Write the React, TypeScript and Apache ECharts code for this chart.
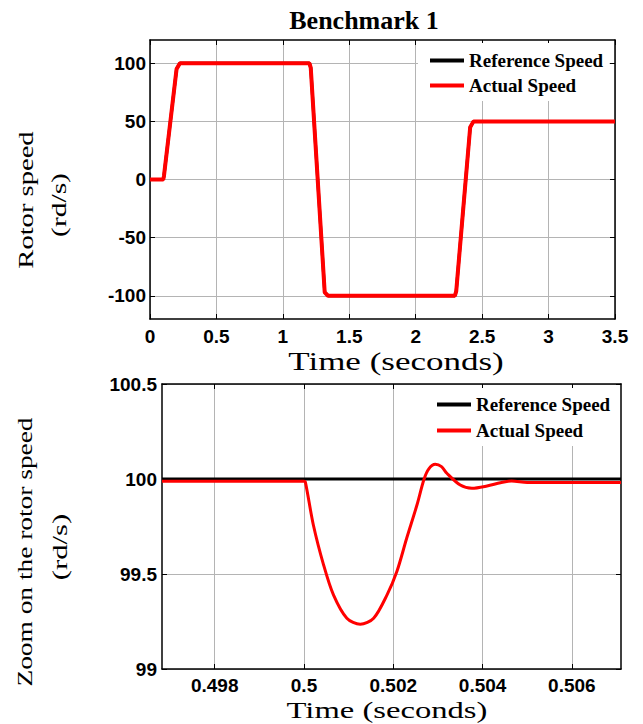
import React, { useEffect, useRef } from "react";
import * as echarts from "echarts";

// ---- Top plot (Benchmark 1) ----
const topTime = [0, 0.1, 0.105, 0.2, 0.225, 1.2, 1.21, 1.315, 1.34, 2.295, 2.305, 2.41, 2.435, 3.5];
const topReference = [0, 0, 3, 95, 100, 100, 96, -97, -100, -100, -96, 45, 50, 50];
const topActual = [0, 0, 3, 95, 100, 100, 96, -97, -100, -100, -96, 45, 50, 50];
const topYTicks = [-100, -50, 0, 50, 100];

// ---- Bottom plot (zoom) ----
const zoomRefTime = [0.49682, 0.5071];
const zoomReference = [100, 100];
const zoomTime = [
  0.49682, 0.5, 0.50003, 0.50021, 0.50044, 0.50066, 0.50096, 0.50126, 0.50156, 0.50186,
  0.50208, 0.5023, 0.50253, 0.50269, 0.5028, 0.50294, 0.50308, 0.5032, 0.5035, 0.50376,
  0.5041, 0.5044, 0.50465, 0.505, 0.5071,
];
const zoomActual = [
  99.988, 99.988, 99.985, 99.758, 99.547, 99.39, 99.267, 99.235, 99.267, 99.39,
  99.513, 99.688, 99.863, 100.0, 100.055, 100.077, 100.065, 100.03, 99.968, 99.951,
  99.963, 99.98, 99.99, 99.982, 99.981,
];
const zoomXTicks = [0.498, 0.5, 0.502, 0.504, 0.506];

const pairs = (xs: number[], ys: number[]) => xs.map((x, i) => [x, ys[i]]);

const SERIF = "Liberation Serif";
const SANS = "Liberation Sans";

const tickLabel = {
  color: "#000",
  fontFamily: SANS,
  fontWeight: "bold" as const,
  fontSize: 19,
};
const frameLine = { show: true, onZero: false, lineStyle: { color: "#000", width: 1.5 } };
const innerTick = { show: true, inside: true, length: 5, lineStyle: { color: "#000", width: 1 } };
const gridLine = { show: true, lineStyle: { color: "#b4b4b4", width: 1 } };

function label(text: string, x: number, y: number, size: number, scale: number, rotate: boolean, bold = false) {
  return {
    type: "text",
    x,
    y,
    rotation: rotate ? Math.PI / 2 : 0,
    scaleX: scale,
    z: 100,
    style: {
      text,
      fill: "#000",
      fontFamily: SERIF,
      fontSize: size,
      fontWeight: bold ? "bold" : "normal",
      textAlign: "center",
      textVerticalAlign: "middle",
      align: "center",
      verticalAlign: "middle",
    },
  };
}

export default function App() {
  const ref = useRef<HTMLDivElement>(null);
  useEffect(() => {
    document.body.style.margin = "0";
    if (!ref.current) return;
    const chart = echarts.init(ref.current, undefined, { renderer: "svg" });
    const legendText = { color: "#000", fontFamily: SERIF, fontWeight: "bold" as const, fontSize: 19, lineHeight: 19 };
    chart.setOption({
      animation: false,
      backgroundColor: "#fff",
      grid: [
        { left: 150, top: 40, width: 465, height: 279 },
        { left: 162, top: 384, width: 459, height: 285 },
      ],
      legend: [
        {
          orient: "vertical",
          left: 418,
          top: 43,
          padding: [8, 6, 6, 12],
          itemGap: 6,
          itemWidth: 34,
          itemHeight: 4,
          icon: "rect",
          backgroundColor: "#fff",
          textStyle: legendText,
          data: ["Reference Speed", "Actual Speed"],
          selectedMode: false,
        },
        {
          orient: "vertical",
          left: 425,
          top: 388,
          padding: [7, 6, 6, 12],
          itemGap: 7,
          itemWidth: 34,
          itemHeight: 4,
          icon: "rect",
          backgroundColor: "#fff",
          textStyle: legendText,
          data: ["Reference Speed", "Actual Speed"],
          selectedMode: false,
        },
      ],
      xAxis: [
        {
          gridIndex: 0, type: "value", min: 0, max: 3.5, interval: 0.5, position: "bottom",
          axisLine: frameLine, axisTick: innerTick,
          axisLabel: { ...tickLabel, margin: 8 },
          splitLine: gridLine,
        },
        {
          gridIndex: 0, type: "value", min: 0, max: 3.5, interval: 0.5, position: "top",
          axisLine: frameLine, axisTick: innerTick, axisLabel: { show: false }, splitLine: { show: false },
        },
        {
          gridIndex: 1, type: "value", min: 0.49682, max: 0.5071, position: "bottom",
          axisLine: frameLine,
          axisTick: { ...innerTick, customValues: zoomXTicks },
          axisLabel: {
            ...tickLabel,
            margin: 7,
            customValues: zoomXTicks,
            formatter: (v: number) => String(parseFloat(v.toFixed(4))),
          },
          splitLine: gridLine,
        },
        {
          gridIndex: 1, type: "value", min: 0.49682, max: 0.5071, position: "top",
          axisLine: frameLine,
          axisTick: { ...innerTick, customValues: zoomXTicks },
          axisLabel: { show: false, customValues: zoomXTicks },
          splitLine: { show: false },
        },
      ],
      yAxis: [
        {
          gridIndex: 0, type: "value", min: -120, max: 120, position: "left",
          axisLine: frameLine,
          axisTick: { ...innerTick, customValues: topYTicks },
          axisLabel: { ...tickLabel, margin: 4, customValues: topYTicks },
          splitLine: gridLine,
        },
        {
          gridIndex: 0, type: "value", min: -120, max: 120, position: "right",
          axisLine: frameLine,
          axisTick: { ...innerTick, customValues: topYTicks },
          axisLabel: { show: false, customValues: topYTicks },
          splitLine: { show: false },
        },
        {
          gridIndex: 1, type: "value", min: 99, max: 100.5, interval: 0.5, position: "left",
          axisLine: frameLine, axisTick: innerTick,
          axisLabel: { ...tickLabel, margin: 5 },
          splitLine: gridLine,
        },
        {
          gridIndex: 1, type: "value", min: 99, max: 100.5, interval: 0.5, position: "right",
          axisLine: frameLine, axisTick: innerTick, axisLabel: { show: false }, splitLine: { show: false },
        },
      ],
      series: [
        {
          name: "Reference Speed", type: "line", xAxisIndex: 0, yAxisIndex: 0,
          data: pairs(topTime, topReference), showSymbol: false, symbol: "none",
          lineStyle: { color: "#000", width: 3 }, itemStyle: { color: "#000" },
        },
        {
          name: "Actual Speed", type: "line", xAxisIndex: 0, yAxisIndex: 0,
          data: pairs(topTime, topActual), showSymbol: false, symbol: "none",
          lineStyle: { color: "#ff0000", width: 4 }, itemStyle: { color: "#ff0000" },
        },
        {
          name: "Reference Speed", type: "line", xAxisIndex: 2, yAxisIndex: 2,
          data: pairs(zoomRefTime, zoomReference), showSymbol: false, symbol: "none",
          lineStyle: { color: "#000", width: 3 }, itemStyle: { color: "#000" },
        },
        {
          name: "Actual Speed", type: "line", xAxisIndex: 2, yAxisIndex: 2,
          data: pairs(zoomTime, zoomActual), showSymbol: false, symbol: "none", smooth: 0.3,
          lineStyle: { color: "#ff0000", width: 3 }, itemStyle: { color: "#ff0000" },
        },
      ],
      graphic: [
        label("Benchmark 1", 364, 20, 26, 1, false, true),
        label("Time (seconds)", 396, 362, 25, 1.4, false),
        label("Time (seconds)", 387, 710, 24, 1.36, false),
        label("Rotor speed", 26, 200, 22, 1.3, true),
        label("(rd/s)", 59, 205, 22, 1.34, true),
        label("Zoom on the rotor speed", 24, 552, 22, 1.245, true),
        label("(rd/s)", 60, 547, 22, 1.4, true),
      ],
    });
    return () => chart.dispose();
  }, []);
  return <div ref={ref} style={{ width: 643, height: 724 }} />;
}
